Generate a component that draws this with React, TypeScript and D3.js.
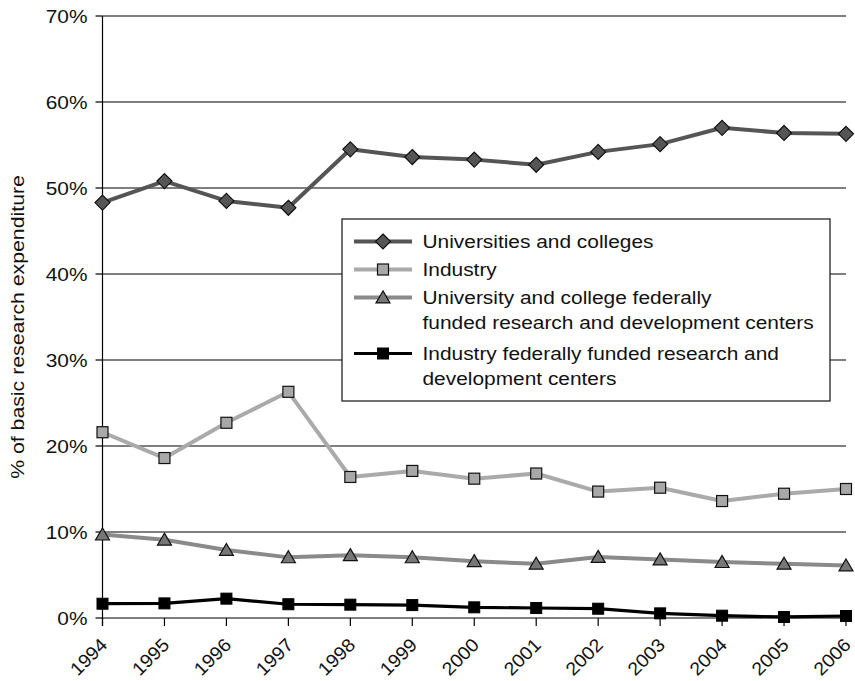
import React, { useEffect, useRef } from "react";
import * as d3 from "d3";

const years = [1994, 1995, 1996, 1997, 1998, 1999, 2000, 2001, 2002, 2003, 2004, 2005, 2006];
const universities = [48.3, 50.8, 48.5, 47.7, 54.5, 53.6, 53.3, 52.7, 54.2, 55.1, 57.0, 56.4, 56.3];
const industry = [21.6, 18.6, 22.7, 26.3, 16.4, 17.1, 16.2, 16.8, 14.7, 15.15, 13.6, 14.45, 15.0];
const univFfrdc = [9.7, 9.1, 7.9, 7.05, 7.3, 7.05, 6.6, 6.3, 7.1, 6.8, 6.5, 6.3, 6.1];
const industryFfrdc = [1.66, 1.7, 2.25, 1.6, 1.55, 1.5, 1.24, 1.16, 1.08, 0.54, 0.27, 0.12, 0.23];
const yTicks = [0, 10, 20, 30, 40, 50, 60, 70];

const seriesNames = [
  ["Universities and colleges"],
  ["Industry"],
  ["University and college federally", "funded research and development centers"],
  ["Industry federally funded research and", "development centers"],
];

type Series = {
  values: number[];
  line: string;
  width: number;
  shape: "diamond" | "square" | "triangle" | "blacksquare";
  fill: string;
};

const seriesList: Series[] = [
  { values: universities, line: "#555555", width: 4, shape: "diamond", fill: "#555555" },
  { values: industry, line: "#aaaaaa", width: 4, shape: "square", fill: "#a8a8a8" },
  { values: univFfrdc, line: "#8a8a8a", width: 4, shape: "triangle", fill: "#777777" },
  { values: industryFfrdc, line: "#000000", width: 3.2, shape: "blacksquare", fill: "#000000" },
];

const FONT = "'Liberation Sans', Arial, Helvetica, sans-serif";
// the typeface runs a little wider than Liberation Sans, so text is stretched along its baseline
const STRETCH = 1.13;

function drawMarker(g: d3.Selection<SVGGElement, unknown, null, undefined>, shape: Series["shape"], fill: string, x: number, y: number) {
  if (shape === "diamond") {
    const r = 7.5;
    g.append("path")
      .attr("d", `M${x},${y - r}L${x + r},${y}L${x},${y + r}L${x - r},${y}Z`)
      .attr("fill", fill).attr("stroke", "#111").attr("stroke-width", 1.2);
  } else if (shape === "square") {
    const s = 11;
    g.append("rect").attr("x", x - s / 2).attr("y", y - s / 2).attr("width", s).attr("height", s)
      .attr("fill", fill).attr("stroke", "#111").attr("stroke-width", 1.2);
  } else if (shape === "triangle") {
    const h = 12, w = 14;
    g.append("path")
      .attr("d", `M${x},${y - h * 0.55}L${x + w / 2},${y + h * 0.45}L${x - w / 2},${y + h * 0.45}Z`)
      .attr("fill", fill).attr("stroke", "#111").attr("stroke-width", 1.2);
  } else {
    const s = 11;
    g.append("rect").attr("x", x - s / 2).attr("y", y - s / 2).attr("width", s).attr("height", s)
      .attr("fill", fill).attr("stroke", "#000").attr("stroke-width", 1);
  }
}

export default function App() {
  const ref = useRef<SVGSVGElement | null>(null);

  useEffect(() => {
    const svg = d3.select(ref.current!);
    svg.selectAll("*").remove();

    const x = d3.scaleLinear().domain([years[0], years[years.length - 1]]).range([102.5, 846]);
    const y = d3.scaleLinear().domain([0, 70]).range([618, 16]);

    const root = svg.append("g");

    // horizontal gridlines
    root.append("g").selectAll("line").data(yTicks.filter((t) => t > 0)).join("line")
      .attr("x1", x(years[0])).attr("x2", x(years[years.length - 1]))
      .attr("y1", (d) => y(d)).attr("y2", (d) => y(d))
      .attr("stroke", "#000").attr("stroke-width", 1.2);

    // axes
    root.append("line").attr("x1", x(years[0])).attr("x2", x(years[years.length - 1]))
      .attr("y1", y(0)).attr("y2", y(0)).attr("stroke", "#000").attr("stroke-width", 1.2);
    root.append("line").attr("x1", x(years[0])).attr("x2", x(years[0]))
      .attr("y1", y(70)).attr("y2", y(0) + 8).attr("stroke", "#000").attr("stroke-width", 1.2);

    // y ticks and labels
    yTicks.forEach((t) => {
      root.append("line").attr("x1", x(years[0]) - 7).attr("x2", x(years[0]))
        .attr("y1", y(t)).attr("y2", y(t)).attr("stroke", "#000").attr("stroke-width", 1.2);
      root.append("text")
        .attr("transform", `translate(87.5,${y(t)}) scale(${STRETCH},1)`)
        .attr("dy", "0.36em")
        .attr("text-anchor", "end").attr("font-family", FONT).attr("font-size", 18.5)
        .attr("fill", "#111").text(`${t}%`);
    });

    // x ticks and labels
    years.forEach((yr) => {
      root.append("line").attr("x1", x(yr)).attr("x2", x(yr))
        .attr("y1", y(0)).attr("y2", y(0)).attr("y2", y(0) + 8).attr("stroke", "#000").attr("stroke-width", 1.2);
      root.append("text")
        .attr("transform", `translate(${x(yr) + 6},${y(0) + 28}) rotate(-45) scale(1.06,1)`)
        .attr("text-anchor", "end").attr("font-family", FONT).attr("font-size", 18.5)
        .attr("fill", "#111").text(String(yr));
    });

    // y axis title
    root.append("text")
      .attr("transform", `translate(24,327) rotate(-90) scale(1.15,1)`)
      .attr("text-anchor", "middle").attr("font-family", FONT).attr("font-size", 18.5)
      .attr("fill", "#111").text("% of basic research expenditure");

    // series
    seriesList.forEach((s) => {
      const line = d3.line<number>().x((_, i) => x(years[i])).y((d) => y(d));
      root.append("path").attr("d", line(s.values)!).attr("fill", "none")
        .attr("stroke", s.line).attr("stroke-width", s.width).attr("stroke-linejoin", "round");
      const mg = root.append("g");
      s.values.forEach((v, i) => drawMarker(mg, s.shape, s.fill, x(years[i]), y(v)));
    });

    // legend
    const lg = root.append("g");
    lg.append("rect").attr("x", 342).attr("y", 219).attr("width", 488).attr("height", 182)
      .attr("fill", "#fff").attr("stroke", "#111").attr("stroke-width", 1.2);
    const rowY = [241.5, 269.5, 297.5, 353.5];
    const lineH = 24.5;
    seriesList.forEach((s, i) => {
      const cy = rowY[i];
      lg.append("line").attr("x1", 354).attr("x2", 412).attr("y1", cy).attr("y2", cy)
        .attr("stroke", s.line).attr("stroke-width", s.width);
      drawMarker(lg as any, s.shape, s.fill, 383, cy);
      seriesNames[i].forEach((t, j) => {
        lg.append("text")
          .attr("transform", `translate(422.5,${cy + j * lineH}) scale(${STRETCH},1)`)
          .attr("dy", "0.36em")
          .attr("font-family", FONT).attr("font-size", 18.5).attr("fill", "#111").text(t);
      });
    });
  }, []);

  return (
    <svg ref={ref} width={855} height={681} style={{ display: "block", position: "absolute", left: 0, top: 0, background: "#fff" }} />
  );
}
